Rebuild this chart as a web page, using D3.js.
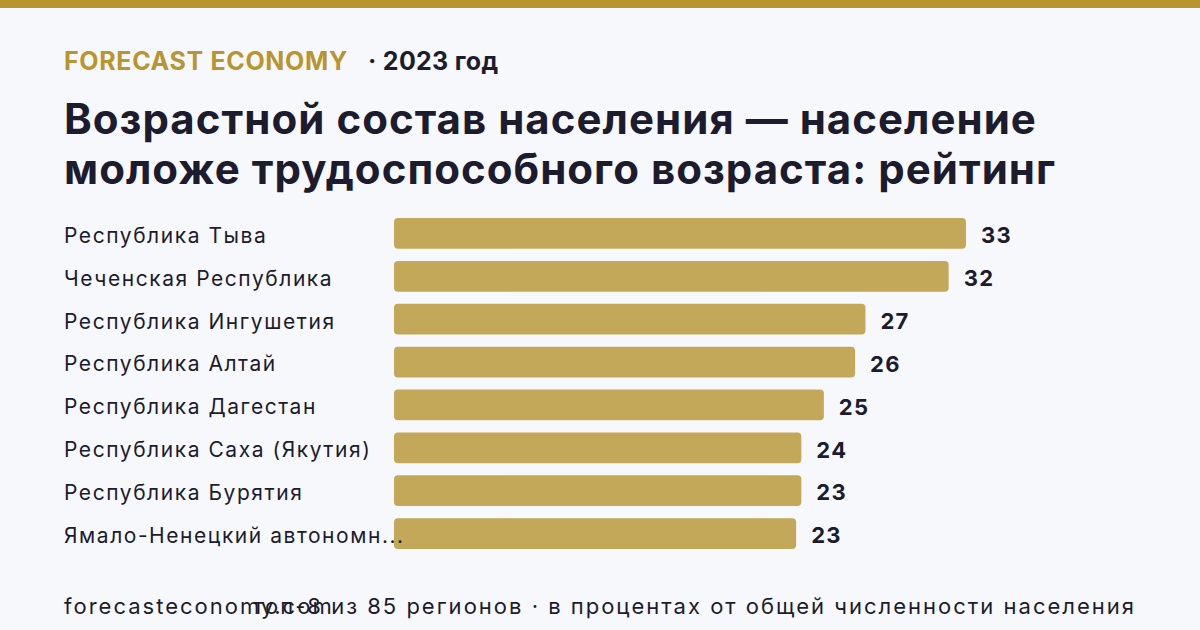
<!DOCTYPE html>
<html>
<head>
<meta charset="utf-8">
<script src="https://cdn.jsdelivr.net/npm/d3@7"></script>
<style>
  body { margin: 0; background: #f7f8fc; }
  svg { display: block; font-family: Inter, "Noto Sans", sans-serif; }
</style>
</head>
<body>
<div id="chart"></div>
<script>
// data
var regions = [
  "Республика Тыва",
  "Чеченская Республика",
  "Республика Ингушетия",
  "Республика Алтай",
  "Республика Дагестан",
  "Республика Саха (Якутия)",
  "Республика Бурятия",
  "Ямало-Ненецкий автономн..."
];
var values = [33.0, 32.0, 27.2, 26.6, 24.8, 23.5, 23.5, 23.2];
var valueLabels = ["33", "32", "27", "26", "25", "24", "23", "23"];

var svgWidth = 1200;
var svgHeight = 630;

var gold = "#b8952e";
var barColor = "#c4a85a";
var ink = "#1c1c2e";

var svg = d3.select("#chart")
  .append("svg")
  .attr("width", svgWidth)
  .attr("height", svgHeight);

svg.append("rect")
  .attr("width", svgWidth)
  .attr("height", svgHeight)
  .attr("fill", "#f7f8fc");

// top stripe
svg.append("rect")
  .attr("width", svgWidth)
  .attr("height", 8)
  .attr("fill", gold);

// header
svg.append("text")
  .attr("x", 64)
  .attr("y", 70)
  .attr("font-size", 25)
  .attr("font-weight", 700)
  .attr("letter-spacing", 0.65)
  .attr("fill", gold)
  .text("FORECAST ECONOMY");

svg.append("text")
  .attr("x", 368)
  .attr("y", 70)
  .attr("font-size", 25)
  .attr("font-weight", 700)
  .attr("letter-spacing", 0.3)
  .attr("fill", ink)
  .text("· 2023 год");

// title
var titleLines = ["Возрастной состав населения — население", "моложе трудоспособного возраста: рейтинг"];
svg.selectAll("text.title")
  .data(titleLines)
  .enter()
  .append("text")
  .attr("class", "title")
  .attr("x", 64)
  .attr("y", (d, i) => 134 + i * 50)
  .attr("font-size", 42)
  .attr("font-weight", 700)
  .attr("letter-spacing", 1.03)
  .attr("fill", ink)
  .text(d => d);

// scales
var x = d3.scaleLinear()
  .domain([0, d3.max(values)])
  .range([394, 966]);

var y = d3.scaleBand()
  .domain(regions)
  .range([213, 556])
  .paddingInner(0.28)
  .paddingOuter(0.14);

var rows = regions.map((r, i) => ({ region: r, value: values[i], label: valueLabels[i] }));

var chartGroup = svg.append("g");

chartGroup.selectAll("rect.bar")
  .data(rows)
  .enter()
  .append("rect")
  .attr("class", "bar")
  .attr("x", x(0))
  .attr("y", d => y(d.region) - 1)
  .attr("width", d => x(d.value) - x(0))
  .attr("height", y.bandwidth())
  .attr("rx", 4)
  .attr("fill", barColor);

chartGroup.selectAll("text.region")
  .data(rows)
  .enter()
  .append("text")
  .attr("class", "region")
  .attr("x", 64)
  .attr("y", d => y(d.region) + y.bandwidth() / 2)
  .attr("dy", "0.4em")
  .attr("font-size", 21)
  .attr("letter-spacing", 1.55)
  .attr("fill", ink)
  .text(d => d.region);

chartGroup.selectAll("text.value")
  .data(rows)
  .enter()
  .append("text")
  .attr("class", "value")
  .attr("x", d => x(d.value) + 15)
  .attr("y", d => y(d.region) + y.bandwidth() / 2)
  .attr("dy", "0.4em")
  .attr("font-size", 22)
  .attr("font-weight", 700)
  .attr("letter-spacing", 1.3)
  .attr("fill", ink)
  .text(d => d.label);

// footer (the two lines overlap in the source picture as well)
svg.append("text")
  .attr("x", 64)
  .attr("y", 614)
  .attr("font-size", 22)
  .attr("letter-spacing", 2)
  .attr("fill", ink)
  .text("forecasteconomy.com");

svg.append("text")
  .attr("x", 1136)
  .attr("y", 614)
  .attr("text-anchor", "end")
  .attr("font-size", 22)
  .attr("letter-spacing", 2)
  .attr("fill", ink)
  .text("топ-8 из 85 регионов · в процентах от общей численности населения");
</script>
</body>
</html>
